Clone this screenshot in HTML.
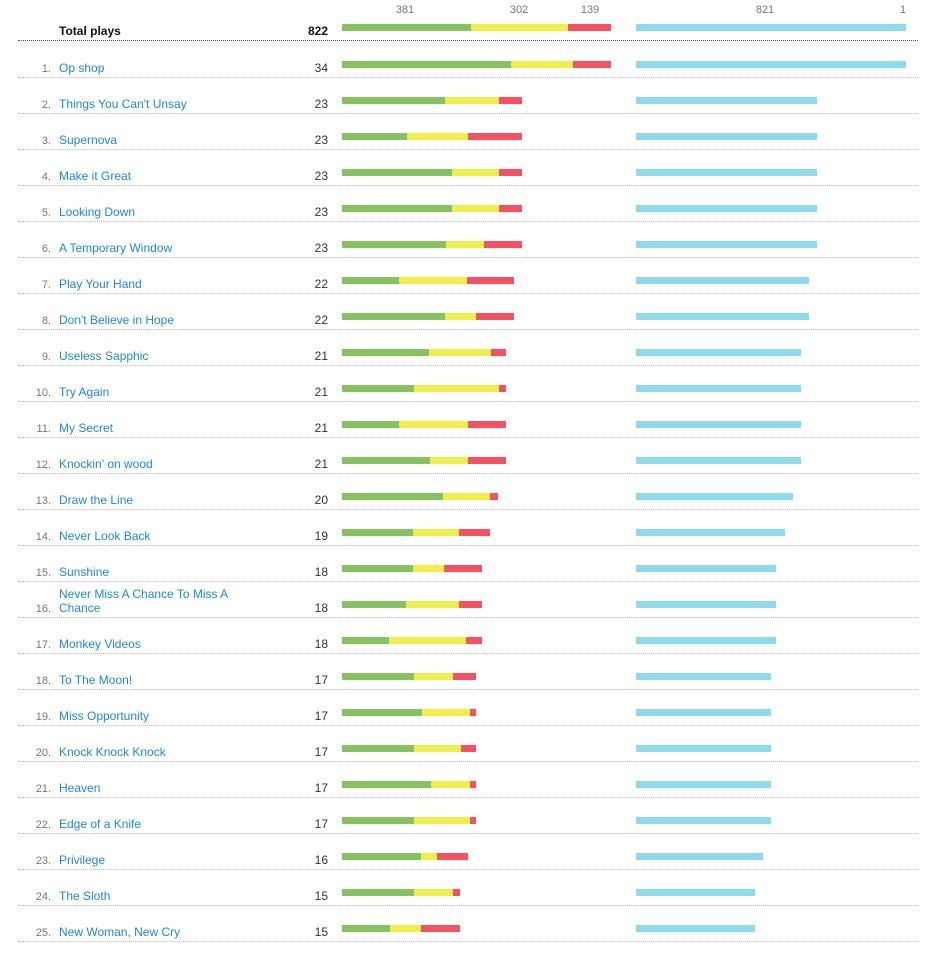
<!DOCTYPE html>
<html><head><meta charset="utf-8"><style>
body{margin:0;width:934px;height:947px;background:#fff;position:relative;font-family:"Liberation Sans",Arial,sans-serif;overflow:hidden}
.h{position:absolute;top:4px;font-size:11px;color:#777;transform:translateX(-50%)}
.r{position:absolute;left:0;width:934px;height:36px}
.n{position:absolute;right:883px;top:5px;font-size:11px;color:#777;line-height:14px}
.t{position:absolute;left:59px;top:4px;font-size:12px;color:#1e88d8;line-height:14px;width:190px}
.c{position:absolute;right:606px;top:4px;font-size:12px;color:#333;line-height:14px}
.b{position:absolute;top:4px;height:7px;left:342px;display:flex}
.b i{display:block;height:7px}
.g{background:#86c25f}.y{background:#f0ef4a}.d{background:#f55064}
.bl{position:absolute;top:4px;height:7px;left:636px;background:#8fd8ee}
.l{position:absolute;left:18px;width:900px;top:20px;border-top:1px dotted #bbb}
</style></head><body>
<div class="h" style="left:405px">381</div>
<div class="h" style="left:519px">302</div>
<div class="h" style="left:590px">139</div>
<div class="h" style="left:765px">821</div>
<div class="h" style="left:903px">1</div>

<div class="r" style="top:20px">
<div class="t" style="color:#111;font-weight:bold">Total plays</div><div class="c" style="color:#111;font-weight:bold">822</div>
<div class="b"><i class="g" style="width:129px"></i><i class="y" style="width:97px"></i><i class="d" style="width:43px"></i></div>
<div class="bl" style="width:270px"></div>
<div class="l" style="border-top:1px dotted #555"></div></div>

<div class="r" style="top:57px"><div class="n">1.</div><div class="t">Op shop</div><div class="c">34</div><div class="b"><i class="g" style="width:169px"></i><i class="y" style="width:62px"></i><i class="d" style="width:38px"></i></div><div class="bl" style="width:270px"></div><div class="l"></div></div>
<div class="r" style="top:93px"><div class="n">2.</div><div class="t">Things You Can't Unsay</div><div class="c">23</div><div class="b"><i class="g" style="width:103px"></i><i class="y" style="width:54px"></i><i class="d" style="width:23px"></i></div><div class="bl" style="width:181px"></div><div class="l"></div></div>
<div class="r" style="top:129px"><div class="n">3.</div><div class="t">Supernova</div><div class="c">23</div><div class="b"><i class="g" style="width:65px"></i><i class="y" style="width:61px"></i><i class="d" style="width:54px"></i></div><div class="bl" style="width:181px"></div><div class="l"></div></div>
<div class="r" style="top:165px"><div class="n">4.</div><div class="t">Make it Great</div><div class="c">23</div><div class="b"><i class="g" style="width:110px"></i><i class="y" style="width:47px"></i><i class="d" style="width:23px"></i></div><div class="bl" style="width:181px"></div><div class="l"></div></div>
<div class="r" style="top:201px"><div class="n">5.</div><div class="t">Looking Down</div><div class="c">23</div><div class="b"><i class="g" style="width:110px"></i><i class="y" style="width:47px"></i><i class="d" style="width:23px"></i></div><div class="bl" style="width:181px"></div><div class="l"></div></div>
<div class="r" style="top:237px"><div class="n">6.</div><div class="t">A Temporary Window</div><div class="c">23</div><div class="b"><i class="g" style="width:104px"></i><i class="y" style="width:38px"></i><i class="d" style="width:38px"></i></div><div class="bl" style="width:181px"></div><div class="l"></div></div>
<div class="r" style="top:273px"><div class="n">7.</div><div class="t">Play Your Hand</div><div class="c">22</div><div class="b"><i class="g" style="width:57px"></i><i class="y" style="width:68px"></i><i class="d" style="width:47px"></i></div><div class="bl" style="width:173px"></div><div class="l"></div></div>
<div class="r" style="top:309px"><div class="n">8.</div><div class="t">Don't Believe in Hope</div><div class="c">22</div><div class="b"><i class="g" style="width:103px"></i><i class="y" style="width:31px"></i><i class="d" style="width:38px"></i></div><div class="bl" style="width:173px"></div><div class="l"></div></div>
<div class="r" style="top:345px"><div class="n">9.</div><div class="t">Useless Sapphic</div><div class="c">21</div><div class="b"><i class="g" style="width:87px"></i><i class="y" style="width:62px"></i><i class="d" style="width:15px"></i></div><div class="bl" style="width:165px"></div><div class="l"></div></div>
<div class="r" style="top:381px"><div class="n">10.</div><div class="t">Try Again</div><div class="c">21</div><div class="b"><i class="g" style="width:72px"></i><i class="y" style="width:85px"></i><i class="d" style="width:7px"></i></div><div class="bl" style="width:165px"></div><div class="l"></div></div>
<div class="r" style="top:417px"><div class="n">11.</div><div class="t">My Secret</div><div class="c">21</div><div class="b"><i class="g" style="width:57px"></i><i class="y" style="width:69px"></i><i class="d" style="width:38px"></i></div><div class="bl" style="width:165px"></div><div class="l"></div></div>
<div class="r" style="top:453px"><div class="n">12.</div><div class="t">Knockin' on wood</div><div class="c">21</div><div class="b"><i class="g" style="width:88px"></i><i class="y" style="width:38px"></i><i class="d" style="width:38px"></i></div><div class="bl" style="width:165px"></div><div class="l"></div></div>
<div class="r" style="top:489px"><div class="n">13.</div><div class="t">Draw the Line</div><div class="c">20</div><div class="b"><i class="g" style="width:101px"></i><i class="y" style="width:47px"></i><i class="d" style="width:8px"></i></div><div class="bl" style="width:157px"></div><div class="l"></div></div>
<div class="r" style="top:525px"><div class="n">14.</div><div class="t">Never Look Back</div><div class="c">19</div><div class="b"><i class="g" style="width:71px"></i><i class="y" style="width:46px"></i><i class="d" style="width:31px"></i></div><div class="bl" style="width:149px"></div><div class="l"></div></div>
<div class="r" style="top:561px"><div class="n">15.</div><div class="t">Sunshine</div><div class="c">18</div><div class="b"><i class="g" style="width:71px"></i><i class="y" style="width:31px"></i><i class="d" style="width:38px"></i></div><div class="bl" style="width:140px"></div><div class="l"></div></div>
<div class="r" style="top:597px"><div class="n">16.</div><div class="t" style="top:-10px">Never Miss A Chance To Miss A Chance</div><div class="c">18</div><div class="b"><i class="g" style="width:64px"></i><i class="y" style="width:53px"></i><i class="d" style="width:23px"></i></div><div class="bl" style="width:140px"></div><div class="l"></div></div>
<div class="r" style="top:633px"><div class="n">17.</div><div class="t">Monkey Videos</div><div class="c">18</div><div class="b"><i class="g" style="width:47px"></i><i class="y" style="width:77px"></i><i class="d" style="width:16px"></i></div><div class="bl" style="width:140px"></div><div class="l"></div></div>
<div class="r" style="top:669px"><div class="n">18.</div><div class="t">To The Moon!</div><div class="c">17</div><div class="b"><i class="g" style="width:72px"></i><i class="y" style="width:39px"></i><i class="d" style="width:23px"></i></div><div class="bl" style="width:135px"></div><div class="l"></div></div>
<div class="r" style="top:705px"><div class="n">19.</div><div class="t">Miss Opportunity</div><div class="c">17</div><div class="b"><i class="g" style="width:80px"></i><i class="y" style="width:48px"></i><i class="d" style="width:6px"></i></div><div class="bl" style="width:135px"></div><div class="l"></div></div>
<div class="r" style="top:741px"><div class="n">20.</div><div class="t">Knock Knock Knock</div><div class="c">17</div><div class="b"><i class="g" style="width:72px"></i><i class="y" style="width:47px"></i><i class="d" style="width:15px"></i></div><div class="bl" style="width:135px"></div><div class="l"></div></div>
<div class="r" style="top:777px"><div class="n">21.</div><div class="t">Heaven</div><div class="c">17</div><div class="b"><i class="g" style="width:89px"></i><i class="y" style="width:39px"></i><i class="d" style="width:6px"></i></div><div class="bl" style="width:135px"></div><div class="l"></div></div>
<div class="r" style="top:813px"><div class="n">22.</div><div class="t">Edge of a Knife</div><div class="c">17</div><div class="b"><i class="g" style="width:72px"></i><i class="y" style="width:56px"></i><i class="d" style="width:6px"></i></div><div class="bl" style="width:135px"></div><div class="l"></div></div>
<div class="r" style="top:849px"><div class="n">23.</div><div class="t">Privilege</div><div class="c">16</div><div class="b"><i class="g" style="width:79px"></i><i class="y" style="width:16px"></i><i class="d" style="width:31px"></i></div><div class="bl" style="width:127px"></div><div class="l"></div></div>
<div class="r" style="top:885px"><div class="n">24.</div><div class="t">The Sloth</div><div class="c">15</div><div class="b"><i class="g" style="width:72px"></i><i class="y" style="width:39px"></i><i class="d" style="width:7px"></i></div><div class="bl" style="width:119px"></div><div class="l"></div></div>
<div class="r" style="top:921px"><div class="n">25.</div><div class="t">New Woman, New Cry</div><div class="c">15</div><div class="b"><i class="g" style="width:48px"></i><i class="y" style="width:31px"></i><i class="d" style="width:39px"></i></div><div class="bl" style="width:119px"></div><div class="l"></div></div>
</body></html>
